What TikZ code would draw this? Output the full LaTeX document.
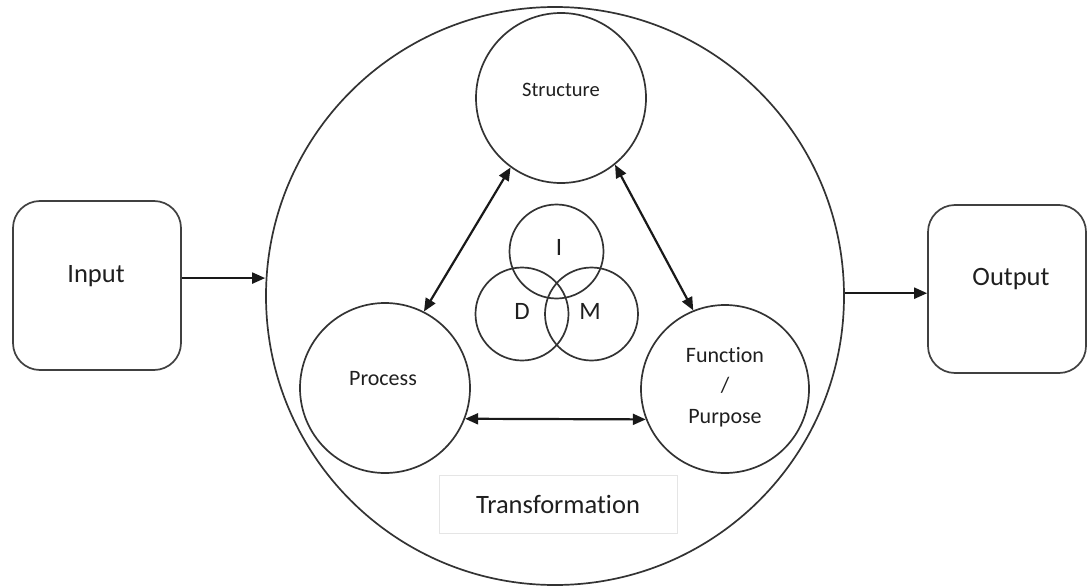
\documentclass[tikz,border=0pt]{standalone}
\usepackage{fontspec}
\setmainfont{Carlito}[Ligatures=NoCommon]
\usetikzlibrary{arrows.meta}
\begin{document}
\begin{tikzpicture}[x=1pt,y=-1pt,
  ring/.style={circle,draw=black!80,line width=1.7pt,inner sep=0pt},
  box/.style={rectangle,rounded corners=27pt,draw=black!75,line width=1.7pt,inner sep=0pt},
  txt/.style={text=black!88,inner sep=0pt,align=center},
  big/.style={txt,font=\fontsize{26.5}{30}\selectfont},
  mid/.style={txt,font=\fontsize{22}{30.5}\selectfont},
  tip/.style={Triangle[length=13pt,width=11pt]},
  arr/.style={line width=2.2pt,draw=black!90,-{Triangle[length=13pt,width=11pt]}},
  darr/.style={line width=2.2pt,draw=black!90,{Triangle[length=13pt,width=11pt]}-{Triangle[length=13pt,width=11pt]}}]
  \useasboundingbox (0,0) rectangle (1087,586);

  % outer transformation circle
  \node[ring,minimum size=578pt] (T) at (555,296) {};

  % input and output boxes
  \node[box,minimum width=168pt,minimum height=169pt] (In) at (97,285.5) {};
  \node[big] (InT) at (96,276) {Input};
  \node[box,minimum width=158pt,minimum height=168pt] (Out) at (1007,289) {};
  \node[big] (OutT) at (1011,279) {Output};

  % three aspects of the transformation
  \node[ring,minimum size=170pt] (S) at (561,98) {};
  \node[txt,font=\fontsize{20.5}{24}\selectfont] (ST) at (561,90) {Structure};
  \node[ring,minimum size=170pt] (P) at (385,388) {};
  \node[mid] (PT) at (383,379) {Process};
  \node[ring,minimum size=168pt] (F) at (725,389) {};
  \node[mid] (FT) at (725,387) {Function\\/\\Purpose};

  % I / D / M triad
  \node[ring,minimum size=94pt] (I) at (556.5,251.5) {};
  \node[ring,minimum size=93pt] (D) at (522,314) {};
  \node[ring,minimum size=93pt] (M) at (591.5,314) {};
  \node[txt,font=\fontsize{25}{28}\selectfont] (IT) at (559,247) {I};
  \node[txt,font=\fontsize{25}{28}\selectfont] (DT) at (522,311) {D};
  \node[txt,font=\fontsize{25}{28}\selectfont] (MT) at (590,311) {M};

  % caption box
  \node[big,draw=black!10,line width=0.8pt,minimum width=238pt,minimum height=58pt] (Cap) at (558,504) {Transformation};

  % connectors
  \draw[arr] (In.5) -- (In.5 -| T.west);
  \draw[arr] (Out.183 -| T.east) -- (Out.183);
  \draw[darr] (S.234) -- (P.63);
  \draw[darr] (S.309) -- (F.112);
  \draw[darr] (P.339) -- (F.201);
\end{tikzpicture}
\end{document}
